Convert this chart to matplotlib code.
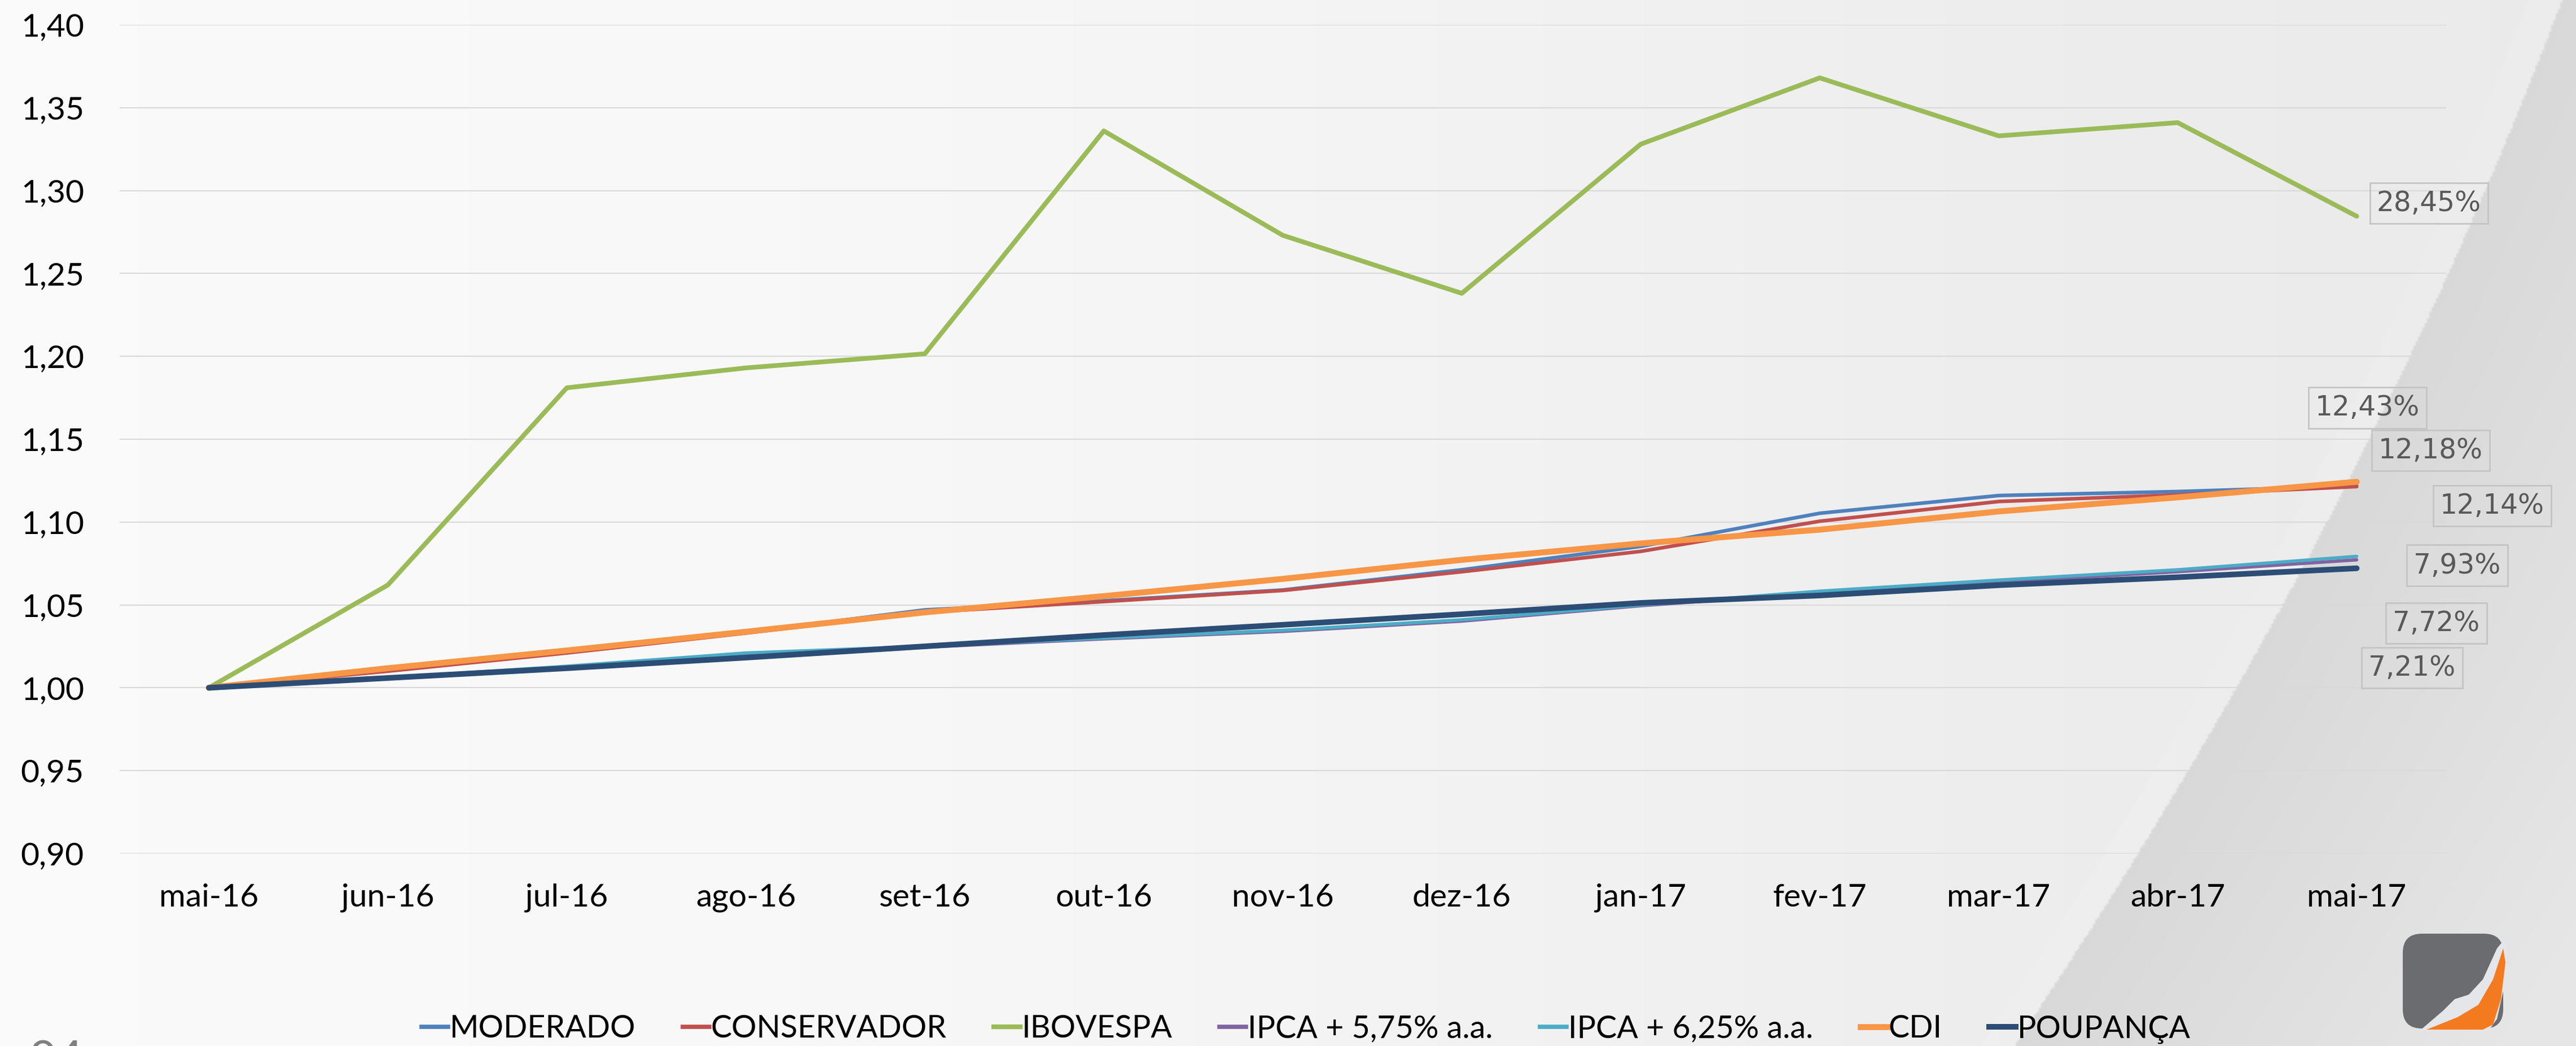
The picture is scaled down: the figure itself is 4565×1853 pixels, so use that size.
import numpy as np
import matplotlib.pyplot as plt
from matplotlib.patches import FancyBboxPatch, Polygon
from matplotlib.lines import Line2D

# dados
meses = ["mai-16", "jun-16", "jul-16", "ago-16", "set-16", "out-16", "nov-16",
         "dez-16", "jan-17", "fev-17", "mar-17", "abr-17", "mai-17"]

moderado = [1.000, 1.0105, 1.0215, 1.0335, 1.0470, 1.0525, 1.0590, 1.0712,
            1.0853, 1.1053, 1.1160, 1.1184, 1.1218]
conservador = [1.000, 1.0100, 1.0210, 1.0330, 1.0455, 1.0520, 1.0587, 1.0700,
               1.0823, 1.1005, 1.1124, 1.1164, 1.1214]
ibovespa = [1.000, 1.062, 1.181, 1.193, 1.2015, 1.336, 1.273, 1.238,
            1.328, 1.368, 1.333, 1.341, 1.2845]
ipca_575 = [1.000, 1.0058, 1.0125, 1.0205, 1.0245, 1.0295, 1.0340, 1.0402,
            1.0495, 1.0573, 1.0638, 1.0700, 1.0772]
ipca_625 = [1.000, 1.0060, 1.0130, 1.0210, 1.0250, 1.0300, 1.0347, 1.0410,
            1.0500, 1.0583, 1.0650, 1.0712, 1.0793]
cdi = [1.000, 1.0118, 1.0225, 1.0338, 1.0455, 1.0553, 1.0657, 1.0772,
       1.0871, 1.0954, 1.1064, 1.1149, 1.1243]
poupanca = [1.000, 1.0059, 1.0118, 1.0182, 1.0250, 1.0318, 1.0380, 1.0444,
            1.0512, 1.0557, 1.0619, 1.0667, 1.0721]

nomes = ["MODERADO", "CONSERVADOR", "IBOVESPA", "IPCA + 5,75% a.a.",
         "IPCA + 6,25% a.a.", "CDI", "POUPANÇA"]
rotulos = ["12,18%", "12,14%", "28,45%", "7,72%", "7,93%", "12,43%", "7,21%"]
yticks = [0.90, 0.95, 1.00, 1.05, 1.10, 1.15, 1.20, 1.25, 1.30, 1.35, 1.40]

valores = [moderado, conservador, ibovespa, ipca_575, ipca_625, cdi, poupanca]
cores = ["#4F81BD", "#C0504D", "#9BBB59", "#8064A2", "#4BACC6", "#F79646", "#2C4D75"]
larguras = [4.6, 4.6, 6.0, 4.2, 4.2, 7.6, 7.2]
# deslocamento dos rotulos (pixels) a partir do ultimo ponto
desloc = [(131, 63), (240, -34), (128, 23), (141, -112), (178, -16), (19, 131), (98, -176)]

W, H = 4565, 1853
fig = plt.figure(figsize=(W / 100, H / 100), dpi=100)

# fundo com degrade e faixa curva a direita
bg = fig.add_axes([0, 0, 1, 1])
bg.set_xlim(0, W)
bg.set_ylim(H, 0)
bg.axis("off")

gx = np.linspace(0, W, 1141)
gy = np.linspace(0, H, 463)
X, Y = np.meshgrid(gx, gy)
base = np.interp(X, [0, 1500, 2600, 3600, W], [0.982, 0.972, 0.952, 0.930, 0.920])
coef = np.polyfit([0, 300, 1000, 1381, H], [4540, 4425, 4080, 3875, 3571], 2)
xb = np.polyval(coef, Y)
d = X - xb
dentro = 0.850 + np.clip(d / 900, 0, 1) * 0.055
brilho = np.where((d < 0) & (d > -60), 0.006, 0.0)
img = np.where(d > 0, dentro, base + brilho)
bg.imshow(np.dstack([img, img, img]), extent=[0, W, H, 0], aspect="auto",
          interpolation="bilinear", zorder=0)

# logotipo
bg.add_patch(FancyBboxPatch((4272, 1668), 150, 140, boxstyle="round,pad=14,rounding_size=34",
                            fc="#6B6C70", ec="none", zorder=2))
bg.add_patch(Polygon([(4288, 1826), (4330, 1790), (4350, 1770), (4375, 1762),
                      (4400, 1735), (4425, 1680), (4440, 1662), (4444, 1720),
                      (4425, 1805), (4410, 1826)], closed=True, fc="#E4E6EA", ec="none", zorder=3))
bg.add_patch(Polygon([(4300, 1824), (4355, 1802), (4392, 1780), (4418, 1735),
                      (4436, 1680), (4440, 1705), (4432, 1770), (4418, 1815),
                      (4400, 1824)], closed=True, fc="#F47A20", ec="none", zorder=4))

# numero da pagina (cortado)
fig.text(51 / W, 1 - 1843 / H, "04", family="Lato", fontsize=60, color="#808080",
         ha="left", va="top")

# grafico
ax = fig.add_axes([211.5 / W, 1 - 1512 / H, (4335 - 211.5) / W, (1512 - 44) / H])
ax.set_facecolor("none")
x = np.arange(len(meses))

for nome, serie, cor, lw in zip(nomes, valores, cores, larguras):
    ax.plot(x, serie, color=cor, linewidth=lw, solid_capstyle="round",
            solid_joinstyle="round", label=nome)

for serie, rot, (dx, dy) in zip(valores, rotulos, desloc):
    ax.annotate(rot, xy=(x[-1], serie[-1]), xytext=(dx, dy), textcoords="offset pixels",
                ha="center", va="center", family="DejaVu Sans", fontsize=35, color="#595959",
                bbox=dict(boxstyle="square,pad=0.25", fc="none", ec="#C4C4C4", lw=2))

ax.set_xlim(-0.5, len(meses) - 0.5)
ax.set_ylim(0.90, 1.40)
ax.set_yticks(yticks)
ax.set_yticklabels([f"{v:.2f}".replace(".", ",") for v in yticks])
ax.set_xticks(x)
ax.set_xticklabels(meses)
ax.grid(axis="y", color="#D9D9D9", linewidth=1.5)
ax.set_axisbelow(True)
for s in ax.spines.values():
    s.set_visible(False)
ax.tick_params(axis="both", length=0, labelsize=41, colors="#000000")
ax.tick_params(axis="y", pad=45)
ax.tick_params(axis="x", pad=38)
for lab in ax.get_xticklabels() + ax.get_yticklabels():
    lab.set_family("Lato")

handles = [Line2D([], [], color=c, linewidth=max(lw, 5.5)) for c, lw in zip(cores, larguras)]
leg = fig.legend(handles, nomes, loc="center", bbox_to_anchor=(0.507, 30 / H), ncol=7,
                 frameon=False, handlelength=0.85, handletextpad=0.05,
                 columnspacing=1.5, prop={"family": "Lato", "size": 40})

fig.savefig("out.png", dpi=100)
